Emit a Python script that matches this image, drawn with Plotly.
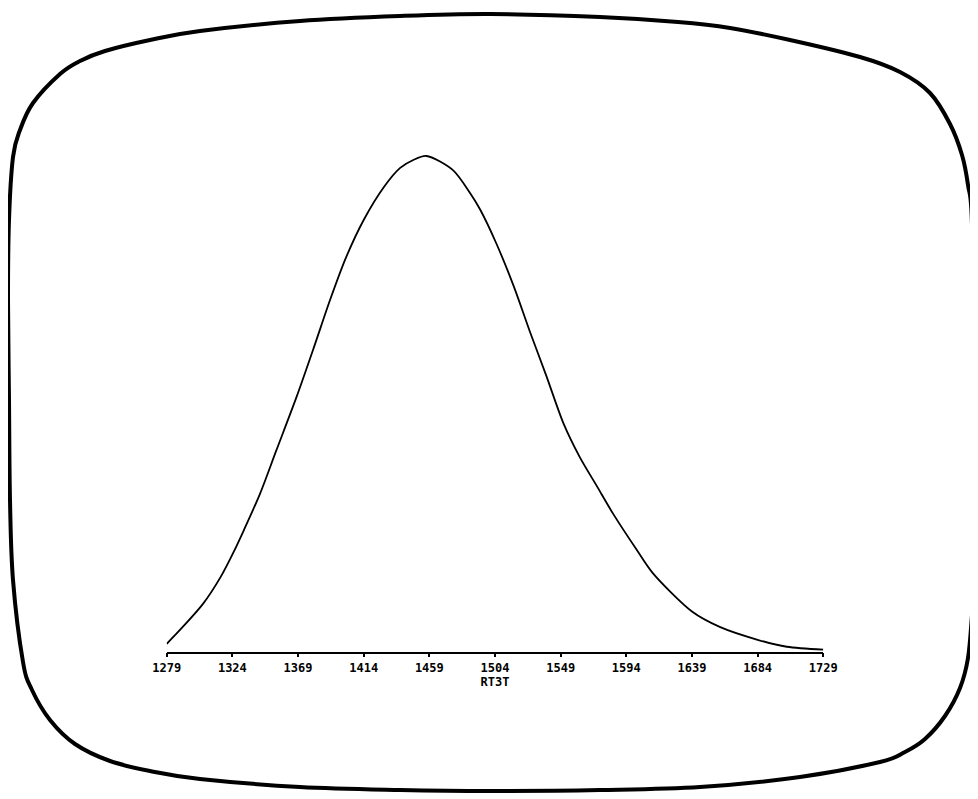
import plotly.graph_objects as go

# ---- data ----
rt3t = [1279, 1290, 1304, 1316, 1325, 1332, 1343, 1354, 1368, 1380, 1391, 1402,
        1414, 1428, 1439, 1448, 1457, 1475, 1487, 1494, 1505, 1517, 1528, 1539,
        1551, 1562, 1574, 1585, 1601, 1612, 1639, 1658, 1684, 1704, 1729]
freq = [1.6, 5.0, 9.7, 15.1, 20.2, 24.6, 31.9, 40.5, 51.4, 61.5, 71.0, 79.6,
        87.1, 93.8, 97.6, 99.2, 100.0, 97.2, 92.5, 89.1, 82.3, 73.6, 64.5, 55.8,
        46.0, 39.3, 33.3, 27.8, 20.6, 15.9, 8.1, 5.0, 2.4, 1.0, 0.4]
tick_vals = [1279, 1324, 1369, 1414, 1459, 1504, 1549, 1594, 1639, 1684, 1729]
tick_text = [str(v) for v in tick_vals]
x_title = "RT3T"

W, H = 978, 799
OFF = 8  # page offset of the plot div (default body margin)

# CRT-screen frame outline (page pixel space, decoration only)
frame_pts = [(490, 14), (600, 17), (678, 22), (730, 28), (790, 40), (860, 57),
             (900, 72), (930, 93), (950, 124), (962, 155), (968, 185), (972, 225),
             (974, 400), (974, 582), (972, 615), (968, 658), (960, 688), (945, 716),
             (925, 739), (905, 752), (880, 762), (800, 777), (700, 787), (600, 790),
             (490, 791), (400, 790), (300, 787), (200, 779), (150, 771), (110, 761),
             (75, 744), (50, 720), (32, 690), (23, 662), (13, 580), (10, 500),
             (9, 400), (8, 300), (9, 220), (13, 157), (20, 130), (33, 103), (60, 74),
             (80, 61), (105, 51), (150, 40), (200, 31), (300, 21), (400, 16)]


def catmull_path(pts):
    n = len(pts)
    d = f"M {pts[0][0]},{pts[0][1]}"
    for i in range(n):
        p0 = pts[(i - 1) % n]
        p1 = pts[i]
        p2 = pts[(i + 1) % n]
        p3 = pts[(i + 2) % n]
        c1 = (p1[0] + (p2[0] - p0[0]) / 6, p1[1] + (p2[1] - p0[1]) / 6)
        c2 = (p2[0] - (p3[0] - p1[0]) / 6, p2[1] - (p3[1] - p1[1]) / 6)
        d += f" C {c1[0]:.2f},{c1[1]:.2f} {c2[0]:.2f},{c2[1]:.2f} {p2[0]},{p2[1]}"
    return d + " Z"


# layout positions in page pixels
x_left_px, x_right_px = 166.7 - OFF, 823.3 - OFF
base_px = 651.7 - OFF
peak_px = 156.0 - OFF
ymax = max(freq) * base_px / (base_px - peak_px)

fig = go.Figure()
fig.add_trace(go.Scatter(
    x=rt3t, y=freq, mode="lines",
    line=dict(color="black", width=1.8, shape="spline", smoothing=0.8),
    hoverinfo="x+y", showlegend=False))

# invisible helper trace for the full-page pixel axes used by the frame
fig.add_trace(go.Scatter(x=[OFF], y=[OFF], xaxis="x2", yaxis="y2", mode="markers",
                         marker=dict(opacity=0), showlegend=False, hoverinfo="skip"))

font = dict(family="DejaVu Sans Mono", size=12, color="black", weight="bold")

fig.update_layout(
    width=W, height=H,
    margin=dict(l=0, r=0, t=0, b=0),
    paper_bgcolor="white", plot_bgcolor="rgba(0,0,0,0)",
    xaxis=dict(
        domain=[x_left_px / W, x_right_px / W], anchor="y",
        range=[1279, 1729], tickvals=tick_vals, ticktext=tick_text,
        showgrid=False, zeroline=False, showline=True, linecolor="black", linewidth=1.5,
        ticks="outside", ticklen=4, tickwidth=1.5, tickcolor="black",
        tickfont=font,
        title=dict(text=x_title, standoff=2, font=font),
        automargin=False),
    yaxis=dict(
        domain=[(H - base_px) / H, 1], range=[0, ymax], anchor="x",
        visible=False, showgrid=False, zeroline=False),
    xaxis2=dict(domain=[0, 1], range=[OFF, W + OFF], anchor="y2", visible=False,
                showgrid=False, zeroline=False, fixedrange=True),
    yaxis2=dict(domain=[0, 1], range=[H + OFF, OFF], anchor="x2", visible=False,
                showgrid=False, zeroline=False, fixedrange=True),
    shapes=[dict(type="path", xref="x2", yref="y2", path=catmull_path(frame_pts),
                 line=dict(color="black", width=4), fillcolor="rgba(0,0,0,0)")],
)

fig.write_html("out.html")
